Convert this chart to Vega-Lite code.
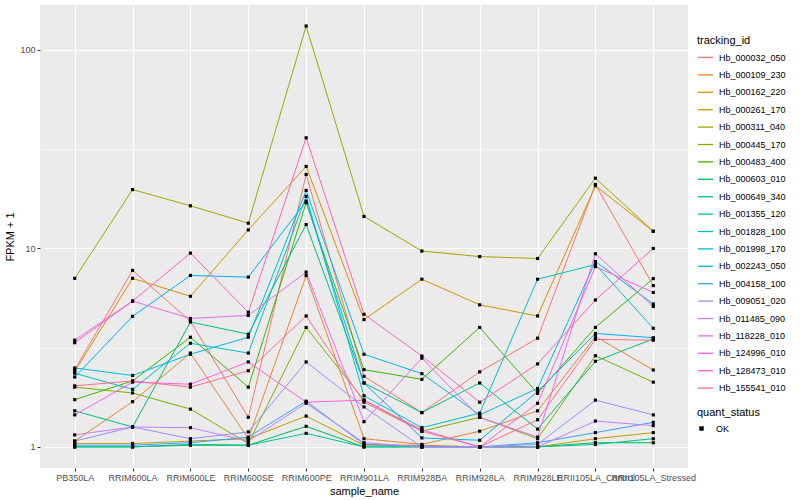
{
  "$schema": "https://vega.github.io/schema/vega-lite/v6.json",
  "width": 648,
  "height": 463,
  "autosize": {"type": "none"},
  "padding": {"left": 40, "top": 5, "right": 112, "bottom": 32},
  "background": "white",
  "config": {
    "view": {"fill": "#EBEBEB", "stroke": null},
    "font": "Liberation Sans",
    "axis": {
      "domain": false,
      "gridColor": "white",
      "tickColor": "#333333",
      "tickSize": 3,
      "labelColor": "#4D4D4D",
      "labelFont": "Liberation Sans",
      "labelFontSize": 9,
      "titleFont": "Liberation Sans",
      "titleFontSize": 11,
      "titleFontWeight": "normal",
      "titleColor": "black"
    },
    "legend": {
      "titleFont": "Liberation Sans",
      "titleFontSize": 11,
      "titleFontWeight": "normal",
      "titleColor": "black",
      "labelFont": "Liberation Sans",
      "labelFontSize": 9,
      "labelColor": "black"
    }
  },
  "data": {
    "values": [
      {"tracking_id":"Hb_000032_050","sample_name":"PB350LA","fpkm":2.45,"quant_status":"OK"},
      {"tracking_id":"Hb_000032_050","sample_name":"RRIM600LA","fpkm":7.75,"quant_status":"OK"},
      {"tracking_id":"Hb_000032_050","sample_name":"RRIM600LE","fpkm":4.3,"quant_status":"OK"},
      {"tracking_id":"Hb_000032_050","sample_name":"RRIM600SE","fpkm":1.41,"quant_status":"OK"},
      {"tracking_id":"Hb_000032_050","sample_name":"RRIM600PE","fpkm":23.6,"quant_status":"OK"},
      {"tracking_id":"Hb_000032_050","sample_name":"RRIM901LA","fpkm":2.27,"quant_status":"OK"},
      {"tracking_id":"Hb_000032_050","sample_name":"RRIM928BA","fpkm":1.49,"quant_status":"OK"},
      {"tracking_id":"Hb_000032_050","sample_name":"RRIM928LA","fpkm":2.39,"quant_status":"OK"},
      {"tracking_id":"Hb_000032_050","sample_name":"RRIM928LE","fpkm":3.53,"quant_status":"OK"},
      {"tracking_id":"Hb_000032_050","sample_name":"RRII105LA_Control","fpkm":21.0,"quant_status":"OK"},
      {"tracking_id":"Hb_000032_050","sample_name":"RRII105LA_Stressed","fpkm":6.5,"quant_status":"OK"},

      {"tracking_id":"Hb_000109_230","sample_name":"PB350LA","fpkm":1.07,"quant_status":"OK"},
      {"tracking_id":"Hb_000109_230","sample_name":"RRIM600LA","fpkm":1.69,"quant_status":"OK"},
      {"tracking_id":"Hb_000109_230","sample_name":"RRIM600LE","fpkm":2.97,"quant_status":"OK"},
      {"tracking_id":"Hb_000109_230","sample_name":"RRIM600SE","fpkm":1.1,"quant_status":"OK"},
      {"tracking_id":"Hb_000109_230","sample_name":"RRIM600PE","fpkm":7.3,"quant_status":"OK"},
      {"tracking_id":"Hb_000109_230","sample_name":"RRIM901LA","fpkm":1.1,"quant_status":"OK"},
      {"tracking_id":"Hb_000109_230","sample_name":"RRIM928BA","fpkm":1.03,"quant_status":"OK"},
      {"tracking_id":"Hb_000109_230","sample_name":"RRIM928LA","fpkm":1.2,"quant_status":"OK"},
      {"tracking_id":"Hb_000109_230","sample_name":"RRIM928LE","fpkm":1.52,"quant_status":"OK"},
      {"tracking_id":"Hb_000109_230","sample_name":"RRII105LA_Control","fpkm":3.6,"quant_status":"OK"},
      {"tracking_id":"Hb_000109_230","sample_name":"RRII105LA_Stressed","fpkm":2.44,"quant_status":"OK"},

      {"tracking_id":"Hb_000162_220","sample_name":"PB350LA","fpkm":2.4,"quant_status":"OK"},
      {"tracking_id":"Hb_000162_220","sample_name":"RRIM600LA","fpkm":7.07,"quant_status":"OK"},
      {"tracking_id":"Hb_000162_220","sample_name":"RRIM600LE","fpkm":5.74,"quant_status":"OK"},
      {"tracking_id":"Hb_000162_220","sample_name":"RRIM600SE","fpkm":12.4,"quant_status":"OK"},
      {"tracking_id":"Hb_000162_220","sample_name":"RRIM600PE","fpkm":25.9,"quant_status":"OK"},
      {"tracking_id":"Hb_000162_220","sample_name":"RRIM901LA","fpkm":4.38,"quant_status":"OK"},
      {"tracking_id":"Hb_000162_220","sample_name":"RRIM928BA","fpkm":7.0,"quant_status":"OK"},
      {"tracking_id":"Hb_000162_220","sample_name":"RRIM928LA","fpkm":5.2,"quant_status":"OK"},
      {"tracking_id":"Hb_000162_220","sample_name":"RRIM928LE","fpkm":4.57,"quant_status":"OK"},
      {"tracking_id":"Hb_000162_220","sample_name":"RRII105LA_Control","fpkm":20.7,"quant_status":"OK"},
      {"tracking_id":"Hb_000162_220","sample_name":"RRII105LA_Stressed","fpkm":12.2,"quant_status":"OK"},

      {"tracking_id":"Hb_000261_170","sample_name":"PB350LA","fpkm":1.04,"quant_status":"OK"},
      {"tracking_id":"Hb_000261_170","sample_name":"RRIM600LA","fpkm":1.04,"quant_status":"OK"},
      {"tracking_id":"Hb_000261_170","sample_name":"RRIM600LE","fpkm":1.07,"quant_status":"OK"},
      {"tracking_id":"Hb_000261_170","sample_name":"RRIM600SE","fpkm":1.1,"quant_status":"OK"},
      {"tracking_id":"Hb_000261_170","sample_name":"RRIM600PE","fpkm":1.43,"quant_status":"OK"},
      {"tracking_id":"Hb_000261_170","sample_name":"RRIM901LA","fpkm":1.02,"quant_status":"OK"},
      {"tracking_id":"Hb_000261_170","sample_name":"RRIM928BA","fpkm":1.02,"quant_status":"OK"},
      {"tracking_id":"Hb_000261_170","sample_name":"RRIM928LA","fpkm":1.0,"quant_status":"OK"},
      {"tracking_id":"Hb_000261_170","sample_name":"RRIM928LE","fpkm":1.0,"quant_status":"OK"},
      {"tracking_id":"Hb_000261_170","sample_name":"RRII105LA_Control","fpkm":1.1,"quant_status":"OK"},
      {"tracking_id":"Hb_000261_170","sample_name":"RRII105LA_Stressed","fpkm":1.18,"quant_status":"OK"},

      {"tracking_id":"Hb_000311_040","sample_name":"PB350LA","fpkm":7.07,"quant_status":"OK"},
      {"tracking_id":"Hb_000311_040","sample_name":"RRIM600LA","fpkm":19.8,"quant_status":"OK"},
      {"tracking_id":"Hb_000311_040","sample_name":"RRIM600LE","fpkm":16.4,"quant_status":"OK"},
      {"tracking_id":"Hb_000311_040","sample_name":"RRIM600SE","fpkm":13.4,"quant_status":"OK"},
      {"tracking_id":"Hb_000311_040","sample_name":"RRIM600PE","fpkm":132,"quant_status":"OK"},
      {"tracking_id":"Hb_000311_040","sample_name":"RRIM901LA","fpkm":14.5,"quant_status":"OK"},
      {"tracking_id":"Hb_000311_040","sample_name":"RRIM928BA","fpkm":9.7,"quant_status":"OK"},
      {"tracking_id":"Hb_000311_040","sample_name":"RRIM928LA","fpkm":9.1,"quant_status":"OK"},
      {"tracking_id":"Hb_000311_040","sample_name":"RRIM928LE","fpkm":8.9,"quant_status":"OK"},
      {"tracking_id":"Hb_000311_040","sample_name":"RRII105LA_Control","fpkm":22.6,"quant_status":"OK"},
      {"tracking_id":"Hb_000311_040","sample_name":"RRII105LA_Stressed","fpkm":12.2,"quant_status":"OK"},

      {"tracking_id":"Hb_000445_170","sample_name":"PB350LA","fpkm":2.0,"quant_status":"OK"},
      {"tracking_id":"Hb_000445_170","sample_name":"RRIM600LA","fpkm":1.87,"quant_status":"OK"},
      {"tracking_id":"Hb_000445_170","sample_name":"RRIM600LE","fpkm":1.55,"quant_status":"OK"},
      {"tracking_id":"Hb_000445_170","sample_name":"RRIM600SE","fpkm":1.04,"quant_status":"OK"},
      {"tracking_id":"Hb_000445_170","sample_name":"RRIM600PE","fpkm":4.0,"quant_status":"OK"},
      {"tracking_id":"Hb_000445_170","sample_name":"RRIM901LA","fpkm":1.72,"quant_status":"OK"},
      {"tracking_id":"Hb_000445_170","sample_name":"RRIM928BA","fpkm":1.2,"quant_status":"OK"},
      {"tracking_id":"Hb_000445_170","sample_name":"RRIM928LA","fpkm":1.41,"quant_status":"OK"},
      {"tracking_id":"Hb_000445_170","sample_name":"RRIM928LE","fpkm":1.1,"quant_status":"OK"},
      {"tracking_id":"Hb_000445_170","sample_name":"RRII105LA_Control","fpkm":2.88,"quant_status":"OK"},
      {"tracking_id":"Hb_000445_170","sample_name":"RRII105LA_Stressed","fpkm":2.12,"quant_status":"OK"},

      {"tracking_id":"Hb_000483_400","sample_name":"PB350LA","fpkm":1.73,"quant_status":"OK"},
      {"tracking_id":"Hb_000483_400","sample_name":"RRIM600LA","fpkm":2.15,"quant_status":"OK"},
      {"tracking_id":"Hb_000483_400","sample_name":"RRIM600LE","fpkm":3.57,"quant_status":"OK"},
      {"tracking_id":"Hb_000483_400","sample_name":"RRIM600SE","fpkm":2.0,"quant_status":"OK"},
      {"tracking_id":"Hb_000483_400","sample_name":"RRIM600PE","fpkm":17.0,"quant_status":"OK"},
      {"tracking_id":"Hb_000483_400","sample_name":"RRIM901LA","fpkm":2.45,"quant_status":"OK"},
      {"tracking_id":"Hb_000483_400","sample_name":"RRIM928BA","fpkm":2.19,"quant_status":"OK"},
      {"tracking_id":"Hb_000483_400","sample_name":"RRIM928LA","fpkm":4.0,"quant_status":"OK"},
      {"tracking_id":"Hb_000483_400","sample_name":"RRIM928LE","fpkm":1.86,"quant_status":"OK"},
      {"tracking_id":"Hb_000483_400","sample_name":"RRII105LA_Control","fpkm":4.0,"quant_status":"OK"},
      {"tracking_id":"Hb_000483_400","sample_name":"RRII105LA_Stressed","fpkm":7.05,"quant_status":"OK"},

      {"tracking_id":"Hb_000603_010","sample_name":"PB350LA","fpkm":1.0,"quant_status":"OK"},
      {"tracking_id":"Hb_000603_010","sample_name":"RRIM600LA","fpkm":1.0,"quant_status":"OK"},
      {"tracking_id":"Hb_000603_010","sample_name":"RRIM600LE","fpkm":1.02,"quant_status":"OK"},
      {"tracking_id":"Hb_000603_010","sample_name":"RRIM600SE","fpkm":1.02,"quant_status":"OK"},
      {"tracking_id":"Hb_000603_010","sample_name":"RRIM600PE","fpkm":1.27,"quant_status":"OK"},
      {"tracking_id":"Hb_000603_010","sample_name":"RRIM901LA","fpkm":1.0,"quant_status":"OK"},
      {"tracking_id":"Hb_000603_010","sample_name":"RRIM928BA","fpkm":1.0,"quant_status":"OK"},
      {"tracking_id":"Hb_000603_010","sample_name":"RRIM928LA","fpkm":1.0,"quant_status":"OK"},
      {"tracking_id":"Hb_000603_010","sample_name":"RRIM928LE","fpkm":1.0,"quant_status":"OK"},
      {"tracking_id":"Hb_000603_010","sample_name":"RRII105LA_Control","fpkm":1.05,"quant_status":"OK"},
      {"tracking_id":"Hb_000603_010","sample_name":"RRII105LA_Stressed","fpkm":1.05,"quant_status":"OK"},

      {"tracking_id":"Hb_000649_340","sample_name":"PB350LA","fpkm":1.52,"quant_status":"OK"},
      {"tracking_id":"Hb_000649_340","sample_name":"RRIM600LA","fpkm":1.26,"quant_status":"OK"},
      {"tracking_id":"Hb_000649_340","sample_name":"RRIM600LE","fpkm":4.26,"quant_status":"OK"},
      {"tracking_id":"Hb_000649_340","sample_name":"RRIM600SE","fpkm":3.7,"quant_status":"OK"},
      {"tracking_id":"Hb_000649_340","sample_name":"RRIM600PE","fpkm":13.2,"quant_status":"OK"},
      {"tracking_id":"Hb_000649_340","sample_name":"RRIM901LA","fpkm":2.1,"quant_status":"OK"},
      {"tracking_id":"Hb_000649_340","sample_name":"RRIM928BA","fpkm":1.49,"quant_status":"OK"},
      {"tracking_id":"Hb_000649_340","sample_name":"RRIM928LA","fpkm":2.1,"quant_status":"OK"},
      {"tracking_id":"Hb_000649_340","sample_name":"RRIM928LE","fpkm":1.23,"quant_status":"OK"},
      {"tracking_id":"Hb_000649_340","sample_name":"RRII105LA_Control","fpkm":2.7,"quant_status":"OK"},
      {"tracking_id":"Hb_000649_340","sample_name":"RRII105LA_Stressed","fpkm":3.5,"quant_status":"OK"},

      {"tracking_id":"Hb_001355_120","sample_name":"PB350LA","fpkm":1.0,"quant_status":"OK"},
      {"tracking_id":"Hb_001355_120","sample_name":"RRIM600LA","fpkm":1.0,"quant_status":"OK"},
      {"tracking_id":"Hb_001355_120","sample_name":"RRIM600LE","fpkm":1.03,"quant_status":"OK"},
      {"tracking_id":"Hb_001355_120","sample_name":"RRIM600SE","fpkm":1.02,"quant_status":"OK"},
      {"tracking_id":"Hb_001355_120","sample_name":"RRIM600PE","fpkm":1.17,"quant_status":"OK"},
      {"tracking_id":"Hb_001355_120","sample_name":"RRIM901LA","fpkm":1.0,"quant_status":"OK"},
      {"tracking_id":"Hb_001355_120","sample_name":"RRIM928BA","fpkm":1.0,"quant_status":"OK"},
      {"tracking_id":"Hb_001355_120","sample_name":"RRIM928LA","fpkm":1.0,"quant_status":"OK"},
      {"tracking_id":"Hb_001355_120","sample_name":"RRIM928LE","fpkm":1.0,"quant_status":"OK"},
      {"tracking_id":"Hb_001355_120","sample_name":"RRII105LA_Control","fpkm":1.03,"quant_status":"OK"},
      {"tracking_id":"Hb_001355_120","sample_name":"RRII105LA_Stressed","fpkm":1.1,"quant_status":"OK"},

      {"tracking_id":"Hb_001828_100","sample_name":"PB350LA","fpkm":2.35,"quant_status":"OK"},
      {"tracking_id":"Hb_001828_100","sample_name":"RRIM600LA","fpkm":1.95,"quant_status":"OK"},
      {"tracking_id":"Hb_001828_100","sample_name":"RRIM600LE","fpkm":3.33,"quant_status":"OK"},
      {"tracking_id":"Hb_001828_100","sample_name":"RRIM600SE","fpkm":2.97,"quant_status":"OK"},
      {"tracking_id":"Hb_001828_100","sample_name":"RRIM600PE","fpkm":18.3,"quant_status":"OK"},
      {"tracking_id":"Hb_001828_100","sample_name":"RRIM901LA","fpkm":1.81,"quant_status":"OK"},
      {"tracking_id":"Hb_001828_100","sample_name":"RRIM928BA","fpkm":1.25,"quant_status":"OK"},
      {"tracking_id":"Hb_001828_100","sample_name":"RRIM928LA","fpkm":1.48,"quant_status":"OK"},
      {"tracking_id":"Hb_001828_100","sample_name":"RRIM928LE","fpkm":7.0,"quant_status":"OK"},
      {"tracking_id":"Hb_001828_100","sample_name":"RRII105LA_Control","fpkm":8.3,"quant_status":"OK"},
      {"tracking_id":"Hb_001828_100","sample_name":"RRII105LA_Stressed","fpkm":3.96,"quant_status":"OK"},

      {"tracking_id":"Hb_001998_170","sample_name":"PB350LA","fpkm":2.5,"quant_status":"OK"},
      {"tracking_id":"Hb_001998_170","sample_name":"RRIM600LA","fpkm":2.29,"quant_status":"OK"},
      {"tracking_id":"Hb_001998_170","sample_name":"RRIM600LE","fpkm":2.93,"quant_status":"OK"},
      {"tracking_id":"Hb_001998_170","sample_name":"RRIM600SE","fpkm":3.57,"quant_status":"OK"},
      {"tracking_id":"Hb_001998_170","sample_name":"RRIM600PE","fpkm":19.6,"quant_status":"OK"},
      {"tracking_id":"Hb_001998_170","sample_name":"RRIM901LA","fpkm":2.93,"quant_status":"OK"},
      {"tracking_id":"Hb_001998_170","sample_name":"RRIM928BA","fpkm":2.34,"quant_status":"OK"},
      {"tracking_id":"Hb_001998_170","sample_name":"RRIM928LA","fpkm":1.45,"quant_status":"OK"},
      {"tracking_id":"Hb_001998_170","sample_name":"RRIM928LE","fpkm":1.97,"quant_status":"OK"},
      {"tracking_id":"Hb_001998_170","sample_name":"RRII105LA_Control","fpkm":8.6,"quant_status":"OK"},
      {"tracking_id":"Hb_001998_170","sample_name":"RRII105LA_Stressed","fpkm":5.25,"quant_status":"OK"},

      {"tracking_id":"Hb_002243_050","sample_name":"PB350LA","fpkm":2.25,"quant_status":"OK"},
      {"tracking_id":"Hb_002243_050","sample_name":"RRIM600LA","fpkm":4.55,"quant_status":"OK"},
      {"tracking_id":"Hb_002243_050","sample_name":"RRIM600LE","fpkm":7.31,"quant_status":"OK"},
      {"tracking_id":"Hb_002243_050","sample_name":"RRIM600SE","fpkm":7.17,"quant_status":"OK"},
      {"tracking_id":"Hb_002243_050","sample_name":"RRIM600PE","fpkm":17.3,"quant_status":"OK"},
      {"tracking_id":"Hb_002243_050","sample_name":"RRIM901LA","fpkm":2.1,"quant_status":"OK"},
      {"tracking_id":"Hb_002243_050","sample_name":"RRIM928BA","fpkm":1.11,"quant_status":"OK"},
      {"tracking_id":"Hb_002243_050","sample_name":"RRIM928LA","fpkm":1.08,"quant_status":"OK"},
      {"tracking_id":"Hb_002243_050","sample_name":"RRIM928LE","fpkm":1.9,"quant_status":"OK"},
      {"tracking_id":"Hb_002243_050","sample_name":"RRII105LA_Control","fpkm":3.73,"quant_status":"OK"},
      {"tracking_id":"Hb_002243_050","sample_name":"RRII105LA_Stressed","fpkm":3.55,"quant_status":"OK"},

      {"tracking_id":"Hb_004158_100","sample_name":"PB350LA","fpkm":1.02,"quant_status":"OK"},
      {"tracking_id":"Hb_004158_100","sample_name":"RRIM600LA","fpkm":1.02,"quant_status":"OK"},
      {"tracking_id":"Hb_004158_100","sample_name":"RRIM600LE","fpkm":1.05,"quant_status":"OK"},
      {"tracking_id":"Hb_004158_100","sample_name":"RRIM600SE","fpkm":1.12,"quant_status":"OK"},
      {"tracking_id":"Hb_004158_100","sample_name":"RRIM600PE","fpkm":1.7,"quant_status":"OK"},
      {"tracking_id":"Hb_004158_100","sample_name":"RRIM901LA","fpkm":1.03,"quant_status":"OK"},
      {"tracking_id":"Hb_004158_100","sample_name":"RRIM928BA","fpkm":1.01,"quant_status":"OK"},
      {"tracking_id":"Hb_004158_100","sample_name":"RRIM928LA","fpkm":1.0,"quant_status":"OK"},
      {"tracking_id":"Hb_004158_100","sample_name":"RRIM928LE","fpkm":1.05,"quant_status":"OK"},
      {"tracking_id":"Hb_004158_100","sample_name":"RRII105LA_Control","fpkm":1.18,"quant_status":"OK"},
      {"tracking_id":"Hb_004158_100","sample_name":"RRII105LA_Stressed","fpkm":1.33,"quant_status":"OK"},

      {"tracking_id":"Hb_009051_020","sample_name":"PB350LA","fpkm":1.07,"quant_status":"OK"},
      {"tracking_id":"Hb_009051_020","sample_name":"RRIM600LA","fpkm":1.26,"quant_status":"OK"},
      {"tracking_id":"Hb_009051_020","sample_name":"RRIM600LE","fpkm":1.1,"quant_status":"OK"},
      {"tracking_id":"Hb_009051_020","sample_name":"RRIM600SE","fpkm":1.19,"quant_status":"OK"},
      {"tracking_id":"Hb_009051_020","sample_name":"RRIM600PE","fpkm":2.68,"quant_status":"OK"},
      {"tracking_id":"Hb_009051_020","sample_name":"RRIM901LA","fpkm":1.59,"quant_status":"OK"},
      {"tracking_id":"Hb_009051_020","sample_name":"RRIM928BA","fpkm":1.0,"quant_status":"OK"},
      {"tracking_id":"Hb_009051_020","sample_name":"RRIM928LA","fpkm":1.0,"quant_status":"OK"},
      {"tracking_id":"Hb_009051_020","sample_name":"RRIM928LE","fpkm":1.03,"quant_status":"OK"},
      {"tracking_id":"Hb_009051_020","sample_name":"RRII105LA_Control","fpkm":1.72,"quant_status":"OK"},
      {"tracking_id":"Hb_009051_020","sample_name":"RRII105LA_Stressed","fpkm":1.45,"quant_status":"OK"},

      {"tracking_id":"Hb_011485_090","sample_name":"PB350LA","fpkm":1.15,"quant_status":"OK"},
      {"tracking_id":"Hb_011485_090","sample_name":"RRIM600LA","fpkm":1.26,"quant_status":"OK"},
      {"tracking_id":"Hb_011485_090","sample_name":"RRIM600LE","fpkm":1.25,"quant_status":"OK"},
      {"tracking_id":"Hb_011485_090","sample_name":"RRIM600SE","fpkm":1.07,"quant_status":"OK"},
      {"tracking_id":"Hb_011485_090","sample_name":"RRIM600PE","fpkm":1.66,"quant_status":"OK"},
      {"tracking_id":"Hb_011485_090","sample_name":"RRIM901LA","fpkm":1.05,"quant_status":"OK"},
      {"tracking_id":"Hb_011485_090","sample_name":"RRIM928BA","fpkm":1.0,"quant_status":"OK"},
      {"tracking_id":"Hb_011485_090","sample_name":"RRIM928LA","fpkm":1.0,"quant_status":"OK"},
      {"tracking_id":"Hb_011485_090","sample_name":"RRIM928LE","fpkm":1.0,"quant_status":"OK"},
      {"tracking_id":"Hb_011485_090","sample_name":"RRII105LA_Control","fpkm":1.35,"quant_status":"OK"},
      {"tracking_id":"Hb_011485_090","sample_name":"RRII105LA_Stressed","fpkm":1.28,"quant_status":"OK"},

      {"tracking_id":"Hb_118228_010","sample_name":"PB350LA","fpkm":3.45,"quant_status":"OK"},
      {"tracking_id":"Hb_118228_010","sample_name":"RRIM600LA","fpkm":5.43,"quant_status":"OK"},
      {"tracking_id":"Hb_118228_010","sample_name":"RRIM600LE","fpkm":4.44,"quant_status":"OK"},
      {"tracking_id":"Hb_118228_010","sample_name":"RRIM600SE","fpkm":4.6,"quant_status":"OK"},
      {"tracking_id":"Hb_118228_010","sample_name":"RRIM600PE","fpkm":7.6,"quant_status":"OK"},
      {"tracking_id":"Hb_118228_010","sample_name":"RRIM901LA","fpkm":1.34,"quant_status":"OK"},
      {"tracking_id":"Hb_118228_010","sample_name":"RRIM928BA","fpkm":2.8,"quant_status":"OK"},
      {"tracking_id":"Hb_118228_010","sample_name":"RRIM928LA","fpkm":1.41,"quant_status":"OK"},
      {"tracking_id":"Hb_118228_010","sample_name":"RRIM928LE","fpkm":1.12,"quant_status":"OK"},
      {"tracking_id":"Hb_118228_010","sample_name":"RRII105LA_Control","fpkm":9.4,"quant_status":"OK"},
      {"tracking_id":"Hb_118228_010","sample_name":"RRII105LA_Stressed","fpkm":5.1,"quant_status":"OK"},

      {"tracking_id":"Hb_124996_010","sample_name":"PB350LA","fpkm":1.45,"quant_status":"OK"},
      {"tracking_id":"Hb_124996_010","sample_name":"RRIM600LA","fpkm":2.12,"quant_status":"OK"},
      {"tracking_id":"Hb_124996_010","sample_name":"RRIM600LE","fpkm":2.07,"quant_status":"OK"},
      {"tracking_id":"Hb_124996_010","sample_name":"RRIM600SE","fpkm":2.68,"quant_status":"OK"},
      {"tracking_id":"Hb_124996_010","sample_name":"RRIM600PE","fpkm":1.68,"quant_status":"OK"},
      {"tracking_id":"Hb_124996_010","sample_name":"RRIM901LA","fpkm":1.72,"quant_status":"OK"},
      {"tracking_id":"Hb_124996_010","sample_name":"RRIM928BA","fpkm":1.22,"quant_status":"OK"},
      {"tracking_id":"Hb_124996_010","sample_name":"RRIM928LA","fpkm":1.0,"quant_status":"OK"},
      {"tracking_id":"Hb_124996_010","sample_name":"RRIM928LE","fpkm":1.66,"quant_status":"OK"},
      {"tracking_id":"Hb_124996_010","sample_name":"RRII105LA_Control","fpkm":8.1,"quant_status":"OK"},
      {"tracking_id":"Hb_124996_010","sample_name":"RRII105LA_Stressed","fpkm":6.0,"quant_status":"OK"},

      {"tracking_id":"Hb_128473_010","sample_name":"PB350LA","fpkm":3.35,"quant_status":"OK"},
      {"tracking_id":"Hb_128473_010","sample_name":"RRIM600LA","fpkm":5.43,"quant_status":"OK"},
      {"tracking_id":"Hb_128473_010","sample_name":"RRIM600LE","fpkm":9.47,"quant_status":"OK"},
      {"tracking_id":"Hb_128473_010","sample_name":"RRIM600SE","fpkm":4.77,"quant_status":"OK"},
      {"tracking_id":"Hb_128473_010","sample_name":"RRIM600PE","fpkm":36.1,"quant_status":"OK"},
      {"tracking_id":"Hb_128473_010","sample_name":"RRIM901LA","fpkm":4.66,"quant_status":"OK"},
      {"tracking_id":"Hb_128473_010","sample_name":"RRIM928BA","fpkm":2.87,"quant_status":"OK"},
      {"tracking_id":"Hb_128473_010","sample_name":"RRIM928LA","fpkm":1.68,"quant_status":"OK"},
      {"tracking_id":"Hb_128473_010","sample_name":"RRIM928LE","fpkm":2.62,"quant_status":"OK"},
      {"tracking_id":"Hb_128473_010","sample_name":"RRII105LA_Control","fpkm":5.5,"quant_status":"OK"},
      {"tracking_id":"Hb_128473_010","sample_name":"RRII105LA_Stressed","fpkm":10.0,"quant_status":"OK"},

      {"tracking_id":"Hb_155541_010","sample_name":"PB350LA","fpkm":2.03,"quant_status":"OK"},
      {"tracking_id":"Hb_155541_010","sample_name":"RRIM600LA","fpkm":2.15,"quant_status":"OK"},
      {"tracking_id":"Hb_155541_010","sample_name":"RRIM600LE","fpkm":2.0,"quant_status":"OK"},
      {"tracking_id":"Hb_155541_010","sample_name":"RRIM600SE","fpkm":2.42,"quant_status":"OK"},
      {"tracking_id":"Hb_155541_010","sample_name":"RRIM600PE","fpkm":4.57,"quant_status":"OK"},
      {"tracking_id":"Hb_155541_010","sample_name":"RRIM901LA","fpkm":1.68,"quant_status":"OK"},
      {"tracking_id":"Hb_155541_010","sample_name":"RRIM928BA","fpkm":1.2,"quant_status":"OK"},
      {"tracking_id":"Hb_155541_010","sample_name":"RRIM928LA","fpkm":1.0,"quant_status":"OK"},
      {"tracking_id":"Hb_155541_010","sample_name":"RRIM928LE","fpkm":1.37,"quant_status":"OK"},
      {"tracking_id":"Hb_155541_010","sample_name":"RRII105LA_Control","fpkm":3.48,"quant_status":"OK"},
      {"tracking_id":"Hb_155541_010","sample_name":"RRII105LA_Stressed","fpkm":3.45,"quant_status":"OK"}
    ]
  },
  "encoding": {
    "x": {
      "field": "sample_name",
      "type": "nominal",
      "sort": ["PB350LA","RRIM600LA","RRIM600LE","RRIM600SE","RRIM600PE","RRIM901LA","RRIM928BA","RRIM928LA","RRIM928LE","RRII105LA_Control","RRII105LA_Stressed"],
      "scale": {"type": "point", "padding": 0.6},
      "axis": {
        "title": "sample_name",
        "grid": true,
        "gridWidth": 1.1,
        "labelAngle": 0,
        "labelPadding": 2,
        "labelOverlap": false,
        "labelBound": false,
        "labelFlush": false,
        "titlePadding": 3
      }
    },
    "y": {
      "field": "fpkm",
      "type": "quantitative",
      "scale": {"type": "log", "domain": [0.783, 168.5], "nice": false, "zero": false},
      "axis": {
        "title": "FPKM + 1",
        "values": [1, 3.1623, 10, 31.623, 100],
        "labelExpr": "datum.value < 1.5 ? '1' : (datum.value > 5 && datum.value < 15) ? '10' : datum.value > 50 ? '100' : ''",
        "gridWidth": {"condition": {"test": "datum.value > 3 && datum.value < 4 || datum.value > 30 && datum.value < 40", "value": 0.55}, "value": 1.1},
        "tickOpacity": {"condition": {"test": "datum.value > 3 && datum.value < 4 || datum.value > 30 && datum.value < 40", "value": 0}, "value": 1},
        "labelPadding": 2,
        "titlePadding": 4
      }
    }
  },
  "layer": [
    {
      "mark": {"type": "line", "strokeWidth": 1},
      "encoding": {
        "color": {
          "field": "tracking_id",
          "type": "nominal",
          "scale": {
            "domain": ["Hb_000032_050","Hb_000109_230","Hb_000162_220","Hb_000261_170","Hb_000311_040","Hb_000445_170","Hb_000483_400","Hb_000603_010","Hb_000649_340","Hb_001355_120","Hb_001828_100","Hb_001998_170","Hb_002243_050","Hb_004158_100","Hb_009051_020","Hb_011485_090","Hb_118228_010","Hb_124996_010","Hb_128473_010","Hb_155541_010"],
            "range": ["#F8766D","#EA8331","#D89000","#C09B00","#A3A500","#7CAE00","#39B600","#00BB4E","#00BF7D","#00C1A3","#00BFC4","#00BAE0","#00B0F6","#35A2FF","#9590FF","#C77CFF","#E76BF3","#FA62DB","#FF62BC","#FF6C91"]
          },
          "legend": {
            "title": "tracking_id",
            "orient": "none",
            "legendX": 657,
            "legendY": 30,
            "symbolType": "stroke",
            "symbolSize": 225,
            "symbolStrokeWidth": 1.3,
            "rowPadding": 3.4,
            "labelOffset": 5,
            "titlePadding": 3
          }
        }
      }
    },
    {
      "mark": {"type": "point", "filled": true, "color": "black", "size": 10, "opacity": 1},
      "encoding": {
        "shape": {
          "field": "quant_status",
          "type": "nominal",
          "scale": {"range": ["square"]},
          "legend": {
            "title": "quant_status",
            "orient": "none",
            "legendX": 657,
            "legendY": 402,
            "symbolSize": 20,
            "symbolFillColor": "black",
            "symbolStrokeColor": "black",
            "labelOffset": 10,
            "titlePadding": 6
          }
        }
      }
    }
  ]
}
